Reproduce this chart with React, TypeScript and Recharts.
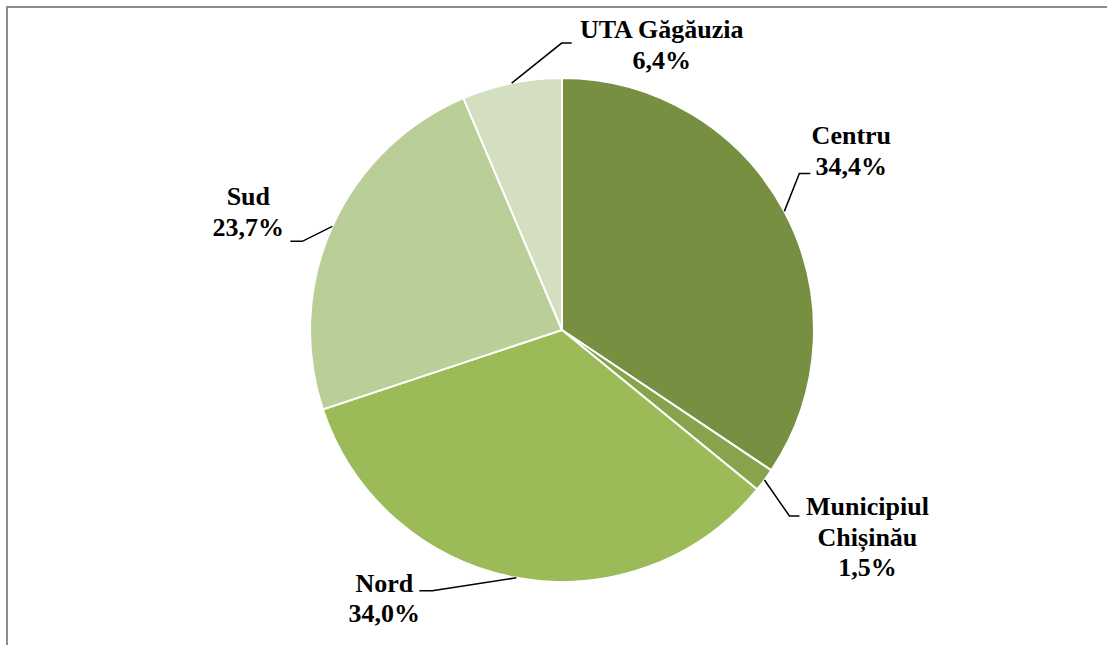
import React from "react";
import { PieChart, Pie, Cell } from "recharts";

const categories = ["Centru", "Municipiul Chișinău", "Nord", "Sud", "UTA Găgăuzia"];
const labelLines = [["Centru"], ["Municipiul", "Chișinău"], ["Nord"], ["Sud"], ["UTA Găgăuzia"]];
const shares = [34.4, 1.5, 34.0, 23.7, 6.4];
const colors = ["#778F41", "#87A44C", "#9BBB59", "#BACE97", "#D3DFC0"];

// label layout: elbow offset from slice edge, horizontal arm, text offset from elbow
const labelLayout = [
  { ex: 15, ey: -38, arm: 11, tx: 52, ty: -29 },
  { ex: 25, ey: 36, arm: 10, tx: 78, ty: -1 },
  { ex: -84, ey: 13, arm: -13, tx: -48, ty: 1 },
  { ex: -30, ey: 15, arm: -12, tx: -54, ty: -36 },
  { ex: 50, ey: -40, arm: 10, tx: 100, ty: -5 },
];

const data = categories.map((name, i) => ({ name, value: shares[i] }));

const RAD = Math.PI / 180;
const FONT = '"Liberation Serif", "Times New Roman", Times, serif';

const renderLabel = (props: any) => {
  const { cx, cy, midAngle, outerRadius, index, value } = props;
  const px = cx + outerRadius * Math.cos(-midAngle * RAD);
  const py = cy + outerRadius * Math.sin(-midAngle * RAD);
  const L = labelLayout[index];
  const elx = px + L.ex;
  const ely = py + L.ey;
  const arx = elx + L.arm;
  const lines = [...labelLines[index], value.toFixed(1).replace(".", ",") + "%"];
  const tx = elx + L.tx;
  const ty = ely + L.ty;
  return (
    <g>
      <polyline
        points={`${px},${py} ${elx},${ely} ${arx},${ely}`}
        fill="none"
        stroke="#000"
        strokeWidth={1.5}
      />
      <text
        x={tx}
        y={ty}
        textAnchor="middle"
        style={{ fontFamily: FONT, fontWeight: 700, fontSize: 26 }}
        fill="#000"
      >
        {lines.map((l, k) => (
          <tspan key={k} x={tx} dy={k === 0 ? 0 : 30.5}>
            {l}
          </tspan>
        ))}
      </text>
    </g>
  );
};

export default function App() {
  return (
    <div style={{ position: "absolute", left: 0, top: 0, width: 1107, height: 645, background: "#fff", overflow: "hidden", fontFamily: FONT }}>
      <div
        style={{
          position: "absolute",
          left: 6,
          top: 6,
          width: 1200,
          height: 800,
          borderTop: "2px solid #8c8c8c",
          borderLeft: "2px solid #8c8c8c",
          boxSizing: "border-box",
        }}
      />
      <div style={{ position: "absolute", left: 0, top: 0 }}>
        <PieChart width={1107} height={645} margin={{ top: 0, right: 0, bottom: 0, left: 0 }}>
          <Pie
            data={data}
            dataKey="value"
            nameKey="name"
            cx={562}
            cy={330}
            outerRadius={252}
            startAngle={90}
            endAngle={-270}
            stroke="#fff"
            strokeWidth={2}
            label={renderLabel}
            labelLine={false}
            isAnimationActive={false}
          >
            {data.map((d, i) => (
              <Cell key={d.name} fill={colors[i]} />
            ))}
          </Pie>
        </PieChart>
      </div>
    </div>
  );
}
